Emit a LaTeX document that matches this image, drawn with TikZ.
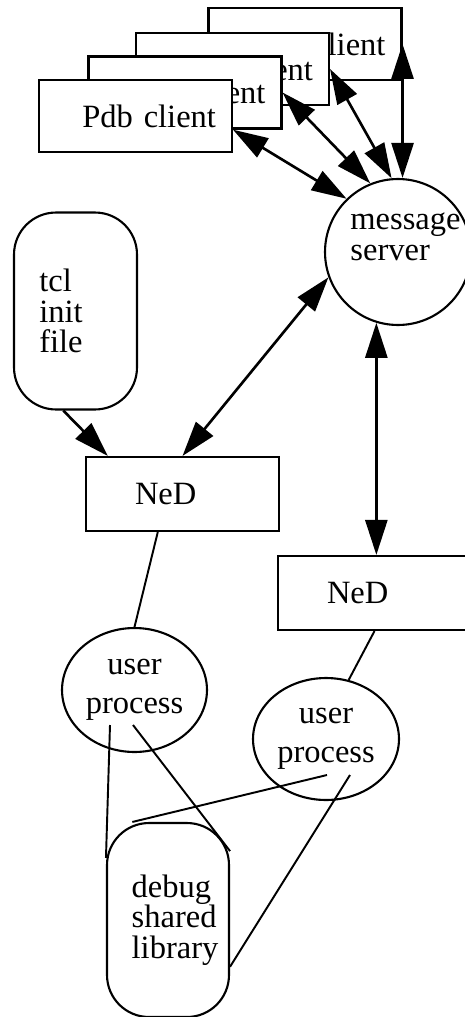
\documentclass[tikz,border=0pt]{standalone}
\usepackage{fontspec}
\setmainfont{Liberation Serif}
\usetikzlibrary{arrows.meta,shapes.geometric}

\begin{document}
\begin{tikzpicture}[x=0.02cm, y=-0.02cm, font=\fontsize{18.5}{17.5}\selectfont,
  >={Triangle[length=0.7cm,width=0.44cm]},
  client/.style={draw, fill=white, line width=1.2pt, minimum height=1.44cm, text width=3.22cm, inner xsep=0.32cm, align=right},
  nedbox/.style={draw, fill=white, line width=1.2pt, minimum height=1.48cm, text width=1.9cm, inner xsep=0.98cm, align=left},
  filebox/.style={draw, line width=1.2pt, rounded corners=0.84cm, inner sep=0pt},
  proc/.style={draw, ellipse, line width=1.2pt, inner sep=0pt, align=center, font=\fontsize{18.5}{22}\selectfont},
  link/.style={line width=1.5pt},
  wire/.style={line width=1.1pt}]
\useasboundingbox (0,0) rectangle (465,1017);
% clients, back to front
\node [client] (c4) at (305,44) {Pdb client};
\node [client] (c3) at (232.5,69) {Pdb client};
\node [client] (c2) at (185,92.5) {Pdb client};
\node [client] (c1) at (135.5,116) {Pdb client};
\node [draw, circle, line width=1.2pt, minimum size=2.92cm, inner sep=0pt,
  label={[align=left, shift={(7.5,-15.5)}]center:message\\server}] (server) at (398,252) {};
\node [filebox, minimum width=2.46cm, minimum height=3.94cm,
  label={[align=left, shift={(-14.5,0)}]center:tcl\\init\\file}] (tcl) at (75.5,311) {};
\node [nedbox] (ned1) at (182.5,494) {NeD};
\node [nedbox] (ned2) at (374.5,593) {NeD};
\node [proc, minimum width=2.9cm, minimum height=2.48cm] (user1) at (134.5,690) {user\\process};
\node [proc, minimum width=2.92cm, minimum height=2.44cm] (user2) at (326,739) {user\\process};
\node [filebox, minimum width=2.44cm, minimum height=3.88cm,
  label={[align=left, shift={(7,0)}]center:debug\\shared\\library}] (lib) at (168,920) {};

\draw [link, <->] (c1.-8) -- (server.134);
\draw [link, <->] (c2.east) -- (server.112);
\draw [link, <->] (c3.east) -- (server.95);
\draw [link, <->] (c4.east) -- (c4.east |- server.north);
\draw [link, <->] (server.200) -- (ned1.north);
\draw [link, ->] (tcl.263) -- (ned1.153);
\draw [link, <->] (server.253) -- (server.253 |- ned2.north);

\draw [wire] (ned1.237) -- (user1.north);
\draw [wire] (ned2.south) -- (user2.69);
% links into the library
\coordinate (u1a) at ([shift={(-24.5,35)}]user1.center);
\coordinate (u1b) at ([shift={(-1.5,35)}]user1.center);
\coordinate (u2a) at ([shift={(1,36)}]user2.center);
\coordinate (u2b) at ([shift={(24,36)}]user2.center);
\draw [wire] (u1a) -- (lib.135);
\draw [wire] (u1b) -- (lib.48);
\draw [wire] (u2a) -- (lib.110);
\draw [wire] (u2b) -- (lib.-37);
\end{tikzpicture}
\end{document}
